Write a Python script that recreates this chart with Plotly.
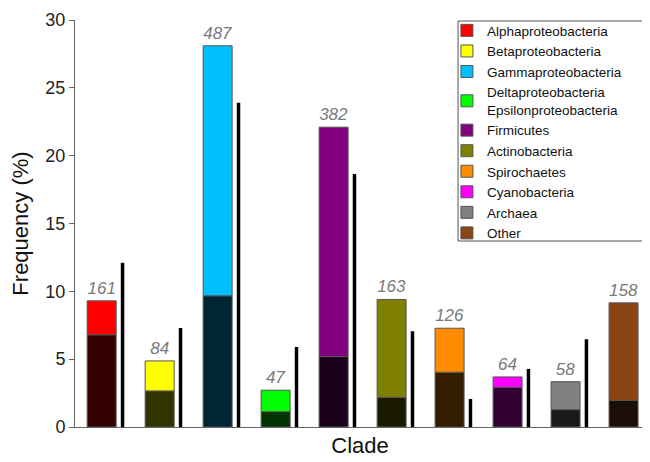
import plotly.graph_objects as go

clades = ["Alphaproteobacteria", "Betaproteobacteria", "Gammaproteobacteria",
          "Deltaproteobacteria<br>Epsilonproteobacteria", "Firmicutes", "Actinobacteria",
          "Spirochaetes", "Cyanobacteria", "Archaea", "Other"]
total_freq = [9.3, 4.87, 28.1, 2.71, 22.1, 9.4, 7.28, 3.69, 3.34, 9.15]
dark_freq = [6.8, 2.66, 9.67, 1.13, 5.19, 2.19, 4.04, 2.93, 1.28, 1.97]
ref_freq = [12.1, 7.3, 23.9, 5.9, 18.65, 7.06, 2.07, 4.28, 6.47, 12.25]
counts = [161, 84, 487, 47, 382, 163, 126, 64, 58, 158]
colors = ["#FF0000", "#FFFF00", "#00BFFF", "#00FF00", "#800080", "#808000",
          "#FF8C00", "#FF00FF", "#808080", "#8B4513"]
dark_colors = ["#330000", "#333300", "#002633", "#003300", "#1A001A", "#1A1A00",
               "#331C00", "#330033", "#1A1A1A", "#1C0E04"]

FONT = "Liberation Sans, Arial, sans-serif"

fig = go.Figure()
for i, name in enumerate(clades):
    fig.add_trace(go.Bar(
        x=[name], y=[dark_freq[i]], width=0.5, offset=-0.25,
        marker=dict(color=dark_colors[i], line=dict(color="#555555", width=1)),
        showlegend=False, hoverinfo="skip"))
    fig.add_trace(go.Bar(
        x=[name], y=[total_freq[i] - dark_freq[i]], base=[dark_freq[i]],
        width=0.5, offset=-0.25, name=name,
        marker=dict(color=colors[i], line=dict(color="#555555", width=1)),
        text=[str(counts[i])], textposition="outside", cliponaxis=False,
        textfont=dict(family=FONT, size=17, color="#7a7a7a", style="italic"),
        showlegend=True))
    fig.add_trace(go.Bar(
        x=[name], y=[ref_freq[i]], width=0.06, offset=0.33,
        marker=dict(color="#000000", line=dict(width=0)),
        showlegend=False, hoverinfo="skip"))

# legend frame
fig.add_shape(type="rect", xref="paper", yref="paper",
              x0=0.672, x1=1.007, y0=0.457, y1=0.9975,
              line=dict(color="#555555", width=1), fillcolor="rgba(0,0,0,0)")

fig.update_layout(
    width=642, height=454,
    margin=dict(l=67, r=5, t=12, b=35),
    barmode="overlay",
    plot_bgcolor="white", paper_bgcolor="white",
    font=dict(family=FONT, color="#222222"),
    xaxis=dict(
        type="category", range=[-0.46, 9.37], showticklabels=False, ticks="",
        showline=True, linecolor="#666666", linewidth=1, showgrid=False, zeroline=False,
        automargin=False,
        title=dict(text="Clade", font=dict(size=22, color="#111111"), standoff=10)),
    yaxis=dict(
        range=[0, 30], tickvals=[0, 5, 10, 15, 20, 25, 30], ticks="outside", ticklen=5,
        tickcolor="#666666", showline=True, linecolor="#666666", linewidth=1,
        showgrid=False, zeroline=False, tickfont=dict(size=18, color="#222222"),
        automargin=False,
        title=dict(text="Frequency (%)", font=dict(size=22, color="#111111"), standoff=11)),
    legend=dict(
        x=0.6525, y=1.012, xanchor="left", yanchor="top",
        borderwidth=0, bgcolor="rgba(0,0,0,0)", maxheight=600,
        font=dict(family=FONT, size=13.5, color="#111111"), traceorder="normal",
        itemwidth=30, tracegroupgap=0),
)

fig.write_html("out.html")
